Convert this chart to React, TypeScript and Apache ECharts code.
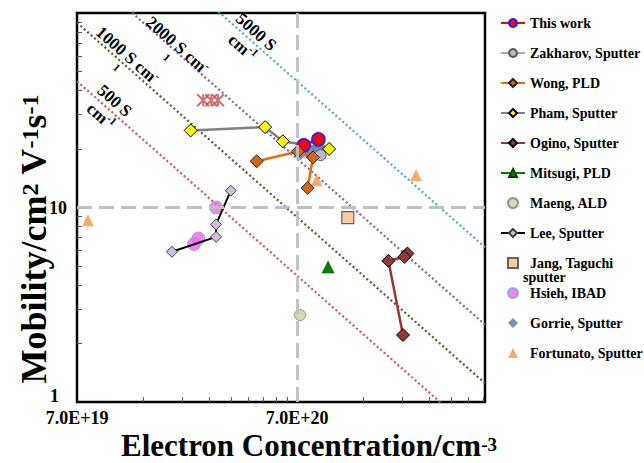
import React, { useEffect, useRef } from "react";
import * as echarts from "echarts";

const FONT = "Liberation Serif";
const E_CHARGE = 1.602e-19;

const X_MIN = 7e19;
const X_MAX = 5e21;
const Y_MIN = 1;
const Y_MAX = 100;

// tick positions / labels
const xLabelValues = [7e19, 7e20];
const xTickMultipliers = [2, 3, 4, 5, 6, 7, 8, 9, 10, 20, 30, 40, 50, 60, 70];
const yLabelValues = [1, 10];
const yTickValues = [2, 3, 4, 5, 6, 7, 8, 9, 10, 20, 30, 40, 50, 60, 70, 80, 90];

// iso-conductivity lines (S/cm)
const conductivities = [500, 1000, 2000, 5000];
const conductivityColors = ["#d9534f", "#4f6228", "#8064a2", "#4bacc6"];

// data series: electron concentration (cm^-3) and mobility (cm2/Vs)
const thisWorkN = [7.5e20, 8.75e20];
const thisWorkMu = [20.9, 22.4];
const zakharovN = [8.96e20];
const zakharovMu = [18.6];
const wongN = [4.59e20, 7.05e20, 8.27e20, 7.82e20];
const wongMu = [17.3, 19.4, 18.1, 12.6];
const phamN = [2.3e20, 5.01e20, 6.03e20, 9.79e20];
const phamMu = [24.9, 25.9, 21.9, 20.0];
const oginoN = [2.22e21, 2.15e21, 1.82e21, 2.12e21];
const oginoMu = [5.8, 5.57, 5.32, 2.21];
const mitsugiN = [9.68e20];
const mitsugiMu = [4.94];
const maengN = [7.22e20];
const maengMu = [2.8];
const leeN = [1.89e20, 3.0e20, 3.0e20, 3.5e20];
const leeMu = [5.92, 7.06, 8.18, 12.2];
const jangN = [1.19e21];
const jangMu = [8.86];
const hsiehN = [3.0e20, 2.49e20, 2.38e20];
const hsiehMu = [10.0, 6.93, 6.48];
const gorrieN = [7.27e20, 8.07e20, 8.89e20];
const gorrieMu = [19.3, 18.9, 20.1];
const fortunatoN = [7.85e19, 8.6e20, 2.43e21];
const fortunatoMu = [8.6, 13.8, 14.65];
const starN = [2.62e20, 2.85e20, 3.06e20];
const starMu = [35.6, 35.6, 35.6];

const legendNames = [
  "This work",
  "Zakharov, Sputter",
  "Wong, PLD",
  "Pham, Sputter",
  "Ogino, Sputter",
  "Mitsugi, PLD",
  "Maeng, ALD",
  "Lee, Sputter",
  "Jang, Taguchi",
  "Hsieh, IBAD",
  "Gorrie, Sputter",
  "Fortunato, Sputter",
];

const ICON_DIAMOND = "path://M5,0L10,5L5,10L0,5Z";
const ICON_SQUARE = "path://M0,0L10,0L10,10L0,10Z";
const ICON_TRIANGLE = "path://M5,0L10,10L0,10Z";

const pts = (n: number[], mu: number[]) => n.map((v, i) => [v, mu[i]]);

function buildOption() {
  const xTickValues = xTickMultipliers.map((k) => k * X_MIN);

  const condSeries = conductivities.map((s, i) => ({
    name: `${s} S/cm`,
    type: "line",
    data: [X_MIN, X_MAX].map((n) => [n, s / (n * E_CHARGE)]),
    showSymbol: false,
    symbol: "none",
    silent: true,
    z: 1,
    lineStyle: { color: conductivityColors[i], width: 2.2, type: [2, 2.6] },
    ...(i === 0
      ? {
          markLine: {
            silent: true,
            symbol: "none",
            label: { show: false },
            lineStyle: { color: "#c0c0c0", width: 2.8, type: [15, 7] },
            data: [{ xAxis: 7e20 }, { yAxis: 10 }],
          },
        }
      : {}),
  }));

  const dataSeries: any[] = [
    {
      name: legendNames[0],
      type: "line",
      data: pts(thisWorkN, thisWorkMu),
      symbol: "circle",
      symbolSize: 13,
      itemStyle: { color: "#ff0000", borderColor: "#1f1fff", borderWidth: 1.5 },
      lineStyle: { color: "#ff0000", width: 2.5 },
    },
    {
      name: legendNames[1],
      type: "line",
      data: pts(zakharovN, zakharovMu),
      symbol: "circle",
      symbolSize: 11,
      itemStyle: { color: "#b9b5cc", borderColor: "#595959", borderWidth: 1 },
      lineStyle: { color: "#b3a2c7", width: 2.5 },
    },
    {
      name: legendNames[2],
      type: "line",
      data: pts(wongN, wongMu),
      symbol: "diamond",
      symbolSize: 13,
      itemStyle: { color: "#d8650e", borderColor: "#262626", borderWidth: 1 },
      lineStyle: { color: "#e46c0a", width: 2.5 },
    },
    {
      name: legendNames[3],
      type: "line",
      data: pts(phamN, phamMu),
      symbol: "diamond",
      symbolSize: 13,
      itemStyle: { color: "#ffff00", borderColor: "#000000", borderWidth: 1 },
      lineStyle: { color: "#808080", width: 2.5 },
    },
    {
      name: legendNames[4],
      type: "line",
      data: pts(oginoN, oginoMu),
      symbol: "diamond",
      symbolSize: 13,
      itemStyle: { color: "#953735", borderColor: "#000000", borderWidth: 1 },
      lineStyle: { color: "#953735", width: 2.5 },
    },
    {
      name: legendNames[5],
      type: "line",
      data: pts(mitsugiN, mitsugiMu),
      symbol: "triangle",
      symbolSize: 12,
      itemStyle: { color: "#008000", borderColor: "#004000", borderWidth: 0.5 },
      lineStyle: { color: "#008000", width: 2.5 },
    },
    {
      name: legendNames[6],
      type: "scatter",
      data: pts(maengN, maengMu),
      symbol: "circle",
      symbolSize: 11,
      itemStyle: { color: "#c3d69b", borderColor: "#7f7f7f", borderWidth: 1 },
    },
    {
      name: legendNames[7],
      type: "line",
      data: pts(leeN, leeMu),
      symbol: "diamond",
      symbolSize: 11,
      itemStyle: { color: "#ccc0da", borderColor: "#404040", borderWidth: 1 },
      lineStyle: { color: "#000000", width: 2 },
    },
    {
      name: legendNames[8],
      type: "scatter",
      data: pts(jangN, jangMu),
      symbol: "rect",
      symbolSize: 12,
      itemStyle: { color: "#fac090", borderColor: "#404040", borderWidth: 1.2 },
    },
    {
      name: legendNames[9],
      type: "scatter",
      data: pts(hsiehN, hsiehMu),
      symbol: "circle",
      symbolSize: 13,
      itemStyle: { color: "#f266f2", borderColor: "#7ea6d8", borderWidth: 1 },
    },
    {
      name: legendNames[10],
      type: "scatter",
      data: pts(gorrieN, gorrieMu),
      symbol: "diamond",
      symbolSize: 16,
      itemStyle: { color: "#4a77a8" },
    },
    {
      name: legendNames[11],
      type: "scatter",
      data: pts(fortunatoN, fortunatoMu),
      symbol: "triangle",
      symbolSize: 12,
      itemStyle: { color: "#f79646" },
    },
    {
      name: "stars",
      type: "scatter",
      data: pts(starN, starMu),
      symbol: "path://M0,0L10,10M10,0L0,10M5,0L5,10",
      symbolSize: 12,
      z: 3,
      itemStyle: { color: "none", borderColor: "#c0504d", borderWidth: 2 },
    },
  ];

  const richLine = {
    a: { fontSize: 17, fontWeight: "bold", fontFamily: FONT, lineHeight: 21, fill: "#000" },
    s: { fontSize: 11, fontWeight: "bold", fontFamily: FONT, verticalAlign: "top", fill: "#000" },
  };
  const rot = -Math.atan(194.7 / 220);
  const condLabel = (text: string, x: number, y: number) => ({
    type: "text",
    x,
    y,
    rotation: rot,
    z: 50,
    style: { text, rich: richLine, align: "center", verticalAlign: "top", fill: "#000" },
  });

  const xTitleRich = {
    t: { fontSize: 31, fontWeight: "bold", fontFamily: FONT, lineHeight: 22, fill: "#000" },
    s: { fontSize: 19, fontWeight: "bold", fontFamily: FONT, verticalAlign: "top", lineHeight: 8, fill: "#000" },
  };
  const yTitleRich = {
    t: { fontSize: 36, fontWeight: "bold", fontFamily: FONT, lineHeight: 32, fill: "#000" },
    s: { fontSize: 24, fontWeight: "bold", fontFamily: FONT, verticalAlign: "top", lineHeight: 20, fill: "#000" },
  };

  const legendData = legendNames.map((name) => {
    if (name === "Jang, Taguchi") return { name, icon: ICON_SQUARE };
    if (name === "Gorrie, Sputter") return { name, icon: ICON_DIAMOND };
    if (name === "Fortunato, Sputter") return { name, icon: ICON_TRIANGLE };
    return { name };
  });

  return {
    animation: false,
    backgroundColor: "#ffffff",
    grid: {
      left: 77,
      top: 13,
      right: 159,
      bottom: 61,
      show: true,
      borderColor: "#000000",
      borderWidth: 2.5,
      backgroundColor: "transparent",
    },
    legend: {
      orient: "vertical",
      left: 495,
      top: 11,
      itemWidth: 24,
      itemHeight: 10,
      itemGap: 16,
      selectedMode: false,
      symbolKeepAspect: true,
      data: legendData,
      textStyle: { fontFamily: FONT, fontWeight: "bold", fontSize: 14, lineHeight: 14, color: "#000" },
    },
    xAxis: {
      type: "log",
      logBase: 10,
      min: X_MIN,
      max: X_MAX,
      axisLine: { show: false },
      splitLine: { show: false },
      minorTick: { show: false },
      axisTick: {
        show: true,
        inside: true,
        length: 5,
        customValues: xTickValues,
        lineStyle: { color: "#595959", width: 1 },
      },
      axisLabel: {
        customValues: xLabelValues,
        formatter: (v: number) => v.toExponential(1).toUpperCase(),
        fontFamily: FONT,
        fontWeight: "bold",
        fontSize: 18,
        lineHeight: 18,
        color: "#000",
        margin: 7,
      },
    },
    yAxis: {
      type: "log",
      logBase: 10,
      min: Y_MIN,
      max: Y_MAX,
      axisLine: { show: false },
      splitLine: { show: false },
      minorTick: { show: false },
      axisTick: {
        show: true,
        inside: true,
        length: 5,
        customValues: yTickValues,
        lineStyle: { color: "#595959", width: 1 },
      },
      axisLabel: {
        customValues: yLabelValues,
        formatter: (v: number) => (Math.round(v) === 1 ? "{one|1}" : String(Math.round(v))),
        fontFamily: FONT,
        fontWeight: "bold",
        fontSize: 18,
        color: "#000",
        margin: 10,
        rich: {
          one: { fontFamily: FONT, fontWeight: "bold", fontSize: 18, lineHeight: 16, padding: [0, 8, 12, 0] },
        },
      },
    },
    series: [...condSeries, ...dataSeries],
    graphic: [
      condLabel("{a|500 S}\n{a|cm}{s|-1}", 121.6, 92.9),
      condLabel("{a|1000 S cm}{s|-}\n{s|1}", 134.4, 47.4),
      condLabel("{a|2000 S cm}{s|-}\n{s|1}", 184.4, 37.4),
      condLabel("{a|5000 S}\n{a|cm}{s|-1}", 263.2, 24.1),
      {
        type: "text",
        x: 523,
        y: 277,
        style: { text: "sputter", fontFamily: FONT, fontWeight: "bold", fontSize: 14, fill: "#000", align: "left", verticalAlign: "middle" },
      },
      {
        type: "text",
        x: 309,
        y: 445.5,
        style: { text: "{t|Electron Concentration/cm}{s|-3}", rich: xTitleRich, align: "center", verticalAlign: "middle", fill: "#000" },
      },
      {
        type: "text",
        x: 34,
        y: 239,
        rotation: Math.PI / 2,
        style: {
          text: "{t|Mobility/cm}{s|2}{t| V}{s|-1}{t|s}{s|-1}",
          rich: yTitleRich,
          align: "center",
          verticalAlign: "middle",
          fill: "#000",
        },
      },
    ],
  };
}

export default function App() {
  const ref = useRef<HTMLDivElement>(null);
  useEffect(() => {
    if (!ref.current) return;
    const chart = echarts.init(ref.current, null, { renderer: "svg" });
    chart.setOption(buildOption() as any);
    return () => chart.dispose();
  }, []);
  return (
    <div
      ref={ref}
      style={{ position: "fixed", left: 0, top: 0, width: 644, height: 463, background: "#fff" }}
    />
  );
}
